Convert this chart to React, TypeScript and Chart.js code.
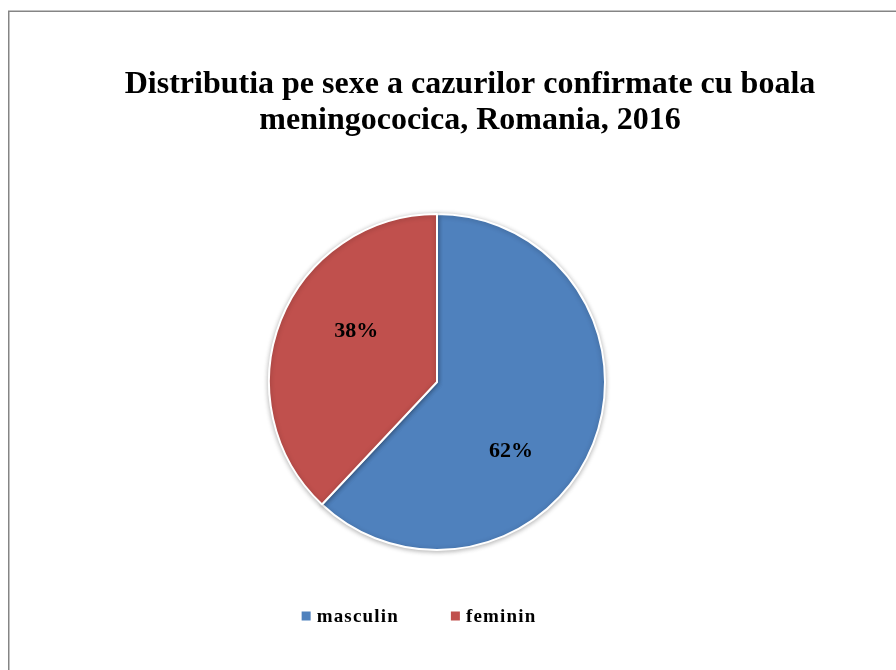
import React, { useEffect, useRef } from "react";
import { Chart, registerables } from "chart.js";

Chart.register(...registerables);

const categories = ["masculin", "feminin"];
const values = [62, 38];
const percentLabels = ["62%", "38%"];
const colors = ["#4F81BD", "#C0504D"];
const titleLines = [
  "Distributia pe sexe a cazurilor confirmate cu boala",
  "meningococica, Romania, 2016",
];

const SERIF = '"Liberation Serif", "Times New Roman", serif';

const decorPlugin = {
  id: "decor",
  beforeDraw(chart: any) {
    const ctx = chart.ctx;
    ctx.save();
    ctx.fillStyle = "#ffffff";
    ctx.fillRect(0, 0, chart.width, chart.height);
    ctx.strokeStyle = "#858585";
    ctx.lineWidth = 1.5;
    ctx.strokeRect(8.75, 11.25, chart.width + 20, chart.height + 20);
    ctx.restore();
  },
  beforeDatasetsDraw(chart: any) {
    const ctx = chart.ctx;
    ctx.save();
    ctx.shadowColor = "rgba(0,0,0,0.28)";
    ctx.shadowBlur = 5;
    ctx.shadowOffsetX = 0;
    ctx.shadowOffsetY = 1;
  },
  afterDatasetsDraw(chart: any) {
    chart.ctx.restore();
  },
  afterDraw(chart: any) {
    const ctx = chart.ctx;
    ctx.save();
    // Title
    ctx.fillStyle = "#000000";
    ctx.font = `bold 32px ${SERIF}`;
    ctx.textAlign = "center";
    ctx.textBaseline = "alphabetic";
    titleLines.forEach((line, i) => {
      ctx.fillText(line, 470, 93 + i * 36);
    });

    // Percentage labels inside slices
    const meta = chart.getDatasetMeta(0);
    const labelOffsets = [
      [0.44, 0.41],
      [-0.48, -0.3],
    ];
    ctx.font = `bold 22px ${SERIF}`;
    ctx.textAlign = "center";
    ctx.textBaseline = "middle";
    meta.data.forEach((arc: any, i: number) => {
      const r = arc.outerRadius;
      const [fx, fy] = labelOffsets[i];
      ctx.fillText(percentLabels[i], arc.x + fx * r, arc.y + fy * r);
    });

    // Legend
    ctx.font = `bold 19px ${SERIF}`;
    (ctx as any).letterSpacing = "1.2px";
    ctx.textAlign = "left";
    ctx.textBaseline = "alphabetic";
    const box = 9;
    const boxGap = 6;
    const itemGap = 53;
    const widths = categories.map((c) => ctx.measureText(c).width - 1.2);
    let total = 0;
    widths.forEach((w, i) => {
      total += box + boxGap + w + (i < widths.length - 1 ? itemGap : 0);
    });
    let x = 418.5 - total / 2;
    categories.forEach((c, i) => {
      ctx.fillStyle = colors[i];
      ctx.fillRect(x, 611.5, box, box);
      ctx.fillStyle = "#000000";
      ctx.fillText(c, x + box + boxGap, 622);
      x += box + boxGap + widths[i] + itemGap;
    });
    ctx.restore();
  },
};

export default function App() {
  const canvasRef = useRef<HTMLCanvasElement | null>(null);

  useEffect(() => {
    const canvas = canvasRef.current;
    if (!canvas) return;
    const chart = new Chart(canvas, {
      type: "pie",
      data: {
        labels: categories,
        datasets: [
          {
            data: values,
            backgroundColor: colors,
            borderColor: "#ffffff",
            borderWidth: 2,
          },
        ],
      },
      options: {
        responsive: false,
        animation: false,
        devicePixelRatio: 1,
        layout: {
          padding: { left: 268, right: 290, top: 213, bottom: 119 },
        },
        plugins: {
          legend: { display: false },
          title: { display: false },
          tooltip: { enabled: false },
        },
      },
      plugins: [decorPlugin],
    });
    return () => chart.destroy();
  }, []);

  return (
    <div style={{ position: "absolute", left: 0, top: 0, width: 896, height: 670, background: "#fff" }}>
      <canvas ref={canvasRef} width={896} height={670} style={{ display: "block" }} />
    </div>
  );
}
